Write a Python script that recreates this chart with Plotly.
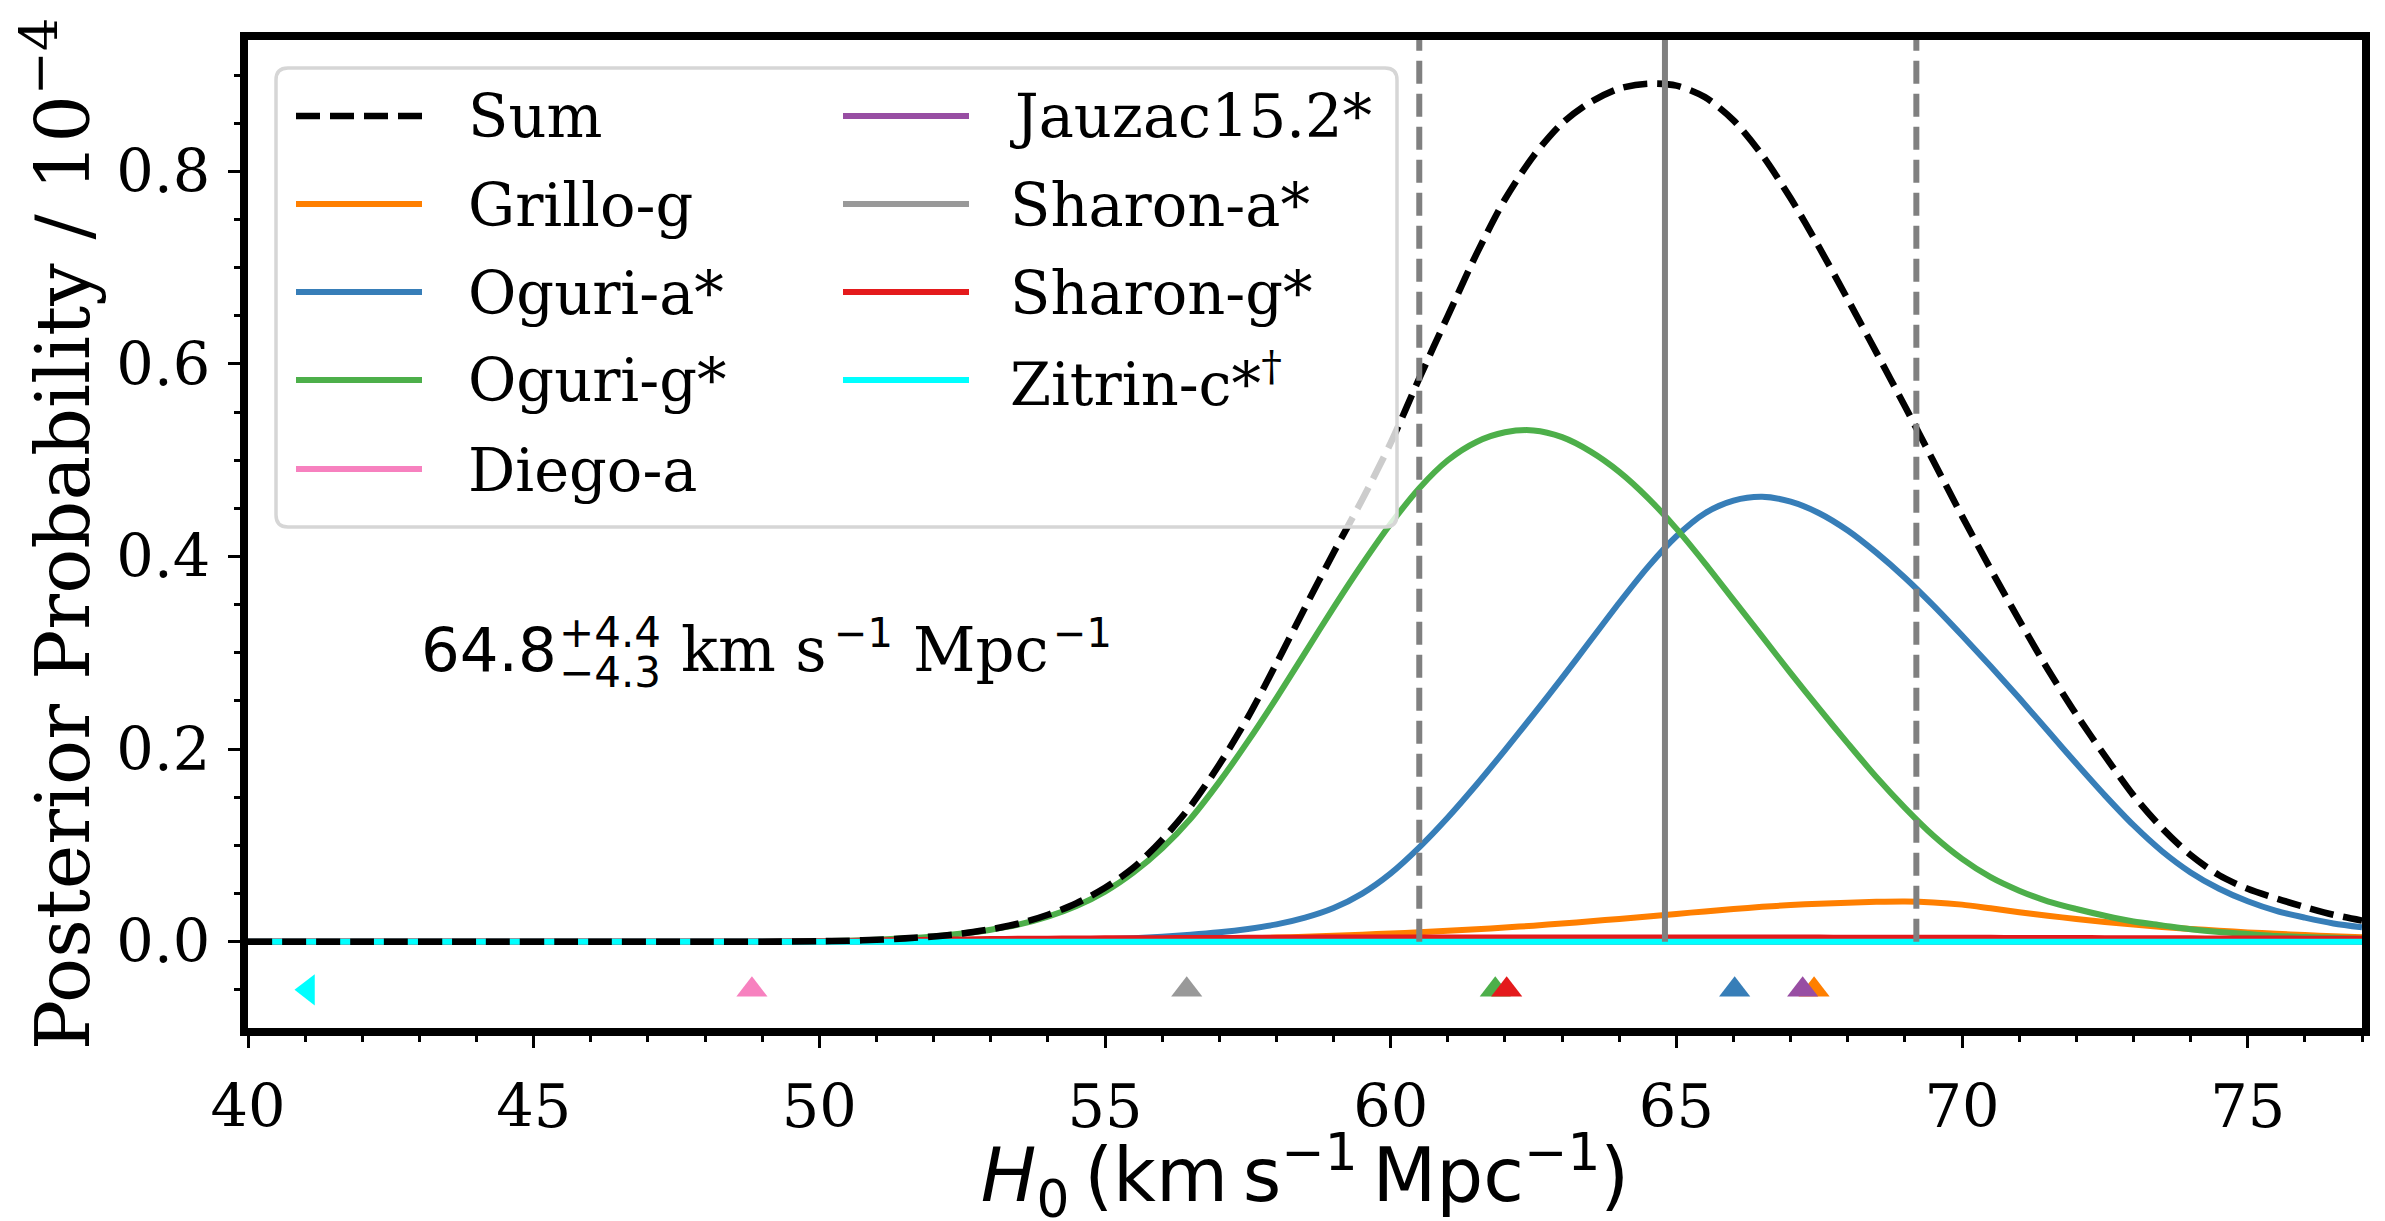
import plotly.graph_objects as go

# ---------------- data ----------------
H0 = [40, 42, 44, 46, 48, 49,
      50, 50.5, 51, 51.5, 52, 52.5, 53, 53.5, 54, 54.5,
      55, 55.5, 56, 56.5, 57, 57.5, 58, 58.5, 59, 59.5,
      60, 60.5, 61, 61.5, 62, 62.5, 63, 63.5, 64, 64.5,
      65, 65.5, 66, 66.5, 67, 67.5, 68, 68.5, 69, 69.5,
      70, 70.5, 71, 71.5, 72, 72.5, 73, 73.5, 74, 74.5,
      75, 75.5, 76, 76.5, 77]

pre = [0, 0, 0, 0, 0, 0]

sum_post = pre + [0.0005, 0.001, 0.002, 0.0035, 0.0055, 0.0085, 0.013, 0.019, 0.028, 0.040,
                  0.056, 0.077, 0.106, 0.141, 0.184, 0.233, 0.289, 0.347, 0.404, 0.459,
                  0.518, 0.585, 0.650, 0.714, 0.771, 0.816, 0.850, 0.872, 0.886, 0.891,
                  0.889, 0.877, 0.853, 0.817, 0.772, 0.721, 0.667, 0.612, 0.556, 0.499,
                  0.442, 0.387, 0.334, 0.283, 0.236, 0.193, 0.152, 0.118, 0.090, 0.069,
                  0.055, 0.045, 0.036, 0.028, 0.022]

grillo_g = pre + [0, 0, 0, 0, 0, 0.0001, 0.0002, 0.0003, 0.0005, 0.0007,
                  0.001, 0.0013, 0.0017, 0.0022, 0.0028, 0.0035, 0.0043, 0.0052, 0.0062, 0.0073,
                  0.0085, 0.0098, 0.0113, 0.0129, 0.0147, 0.0167, 0.0189, 0.0212, 0.0237, 0.0263,
                  0.0289, 0.0315, 0.0340, 0.0362, 0.0381, 0.0395, 0.0405, 0.0414, 0.0418, 0.0408,
                  0.0385, 0.0347, 0.0307, 0.0270, 0.0236, 0.0205, 0.0178, 0.0154, 0.0133, 0.0114,
                  0.0097, 0.0082, 0.0069, 0.0057, 0.0047]

oguri_a = pre + [0, 0, 0, 0, 0.0002, 0.0003, 0.0005, 0.0008, 0.0012, 0.0018,
                 0.0026, 0.0037, 0.0052, 0.0072, 0.0098, 0.0133, 0.018, 0.025, 0.035, 0.050,
                 0.071, 0.098, 0.129, 0.163, 0.199, 0.236, 0.274, 0.313, 0.352, 0.389,
                 0.421, 0.445, 0.458, 0.462, 0.457, 0.445, 0.427, 0.404, 0.378, 0.349,
                 0.318, 0.286, 0.253, 0.219, 0.185, 0.152, 0.121, 0.094, 0.072, 0.055,
                 0.042, 0.032, 0.025, 0.019, 0.015]

oguri_g = pre + [0.0005, 0.001, 0.002, 0.0035, 0.0055, 0.0085, 0.0125, 0.018, 0.026, 0.037,
                 0.052, 0.072, 0.097, 0.128, 0.166, 0.208, 0.253, 0.300, 0.347, 0.392,
                 0.434, 0.471, 0.500, 0.519, 0.529, 0.531, 0.524, 0.509, 0.488, 0.461,
                 0.429, 0.393, 0.355, 0.317, 0.279, 0.242, 0.206, 0.171, 0.139, 0.110,
                 0.086, 0.067, 0.053, 0.042, 0.034, 0.027, 0.021, 0.017, 0.013, 0.010,
                 0.008, 0.006, 0.005, 0.004, 0.003]

sharon_g = pre + [0.0005, 0.0008, 0.0012, 0.0016, 0.002, 0.0024, 0.0027, 0.003, 0.0032, 0.0034,
                  0.0035, 0.0036, 0.0037, 0.0038, 0.0039, 0.004, 0.0041, 0.0042, 0.0043, 0.0043,
                  0.0044, 0.0044, 0.0045, 0.0045, 0.0045, 0.0045, 0.0045, 0.0045, 0.0045, 0.0045,
                  0.0045, 0.0044, 0.0044, 0.0044, 0.0043, 0.0043, 0.0042, 0.0042, 0.0041, 0.0041,
                  0.004, 0.004, 0.0039, 0.0038, 0.0038, 0.0037, 0.0036, 0.0036, 0.0035, 0.0034,
                  0.0034, 0.0033, 0.0032, 0.0031, 0.003]

zeros = [0] * len(H0)
diego_a = list(zeros)
jauzac = list(zeros)
sharon_a = list(zeros)
zitrin_c = list(zeros)

names = ["Grillo-g", "Oguri-a*", "Oguri-g*", "Diego-a", "Jauzac15.2*",
         "Sharon-a*", "Sharon-g*", "Zitrin-c*<sup>†</sup>"]
curves = [grillo_g, oguri_a, oguri_g, diego_a, jauzac, sharon_a, sharon_g, zitrin_c]
colors = ["#ff7f00", "#377eb8", "#4daf4a", "#f781bf", "#984ea3",
          "#999999", "#e41a1c", "#00ffff"]
best_fit = [67.41, 66.02, 61.83, 48.82, 67.21, 56.43, 62.03, 41.05]
marker_symbols = ["triangle-up"] * 7 + ["triangle-left"]
MARKER_Y = -0.05

H0_MED, H0_LO, H0_HI = 64.8, 60.5, 69.2

XR = [40, 77]
YR = [-0.0896, 0.9364]

# ---------------- layout geometry ----------------
# the page body has an 8px default margin; compensate so the plot sits where the reference has it
OFF = 8
W, H = 2385, 1221
L, R, T, B = 240, 31, 32, 201
PW = W - L - R
PH = H - T - B


def pxp(X, Y):
    return ((X - OFF) - L) / PW, (H - B - (Y - OFF)) / PH


def P(X, Y):
    a, b = pxp(X, Y)
    return f"{a:.5f},{b:.5f}"


fig = go.Figure()

LW = 6
for nm, yv, c in zip(names, curves, colors):
    fig.add_trace(go.Scatter(x=H0, y=yv, mode="lines", name=nm,
                             line=dict(color=c, width=LW, shape="spline", smoothing=0.8),
                             showlegend=False, hoverinfo="skip"))
SUM_DASH = "24px,10px"
fig.add_trace(go.Scatter(x=H0, y=sum_post, mode="lines", name="Sum",
                         line=dict(color="black", width=6.6, dash=SUM_DASH,
                                   shape="spline", smoothing=0.8),
                         showlegend=False, hoverinfo="skip"))

for nm, bx, c, sym in zip(names, best_fit, colors, marker_symbols):
    fig.add_trace(go.Scatter(x=[bx], y=[MARKER_Y], mode="markers", name=nm,
                             marker=dict(symbol=sym, size=27, color=c, line=dict(width=0)),
                             showlegend=False, hoverinfo="skip", cliponaxis=False))

shapes = []
y0dom = (0 - YR[0]) / (YR[1] - YR[0])
for v, d in [(H0_LO, "23px,10px"), (H0_MED, "solid"), (H0_HI, "23px,10px")]:
    shapes.append(dict(type="line", xref="x", yref="y domain", x0=v, x1=v,
                       y0=y0dom, y1=1, layer="above",
                       line=dict(color="#808080", width=6, dash=d)))

# legend box (rounded)
x0, x1, y0, y1, r = 276, 1397, 68, 527, 12
path = (f"M{P(x0 + r, y0)} L{P(x1 - r, y0)} Q{P(x1, y0)} {P(x1, y0 + r)} "
        f"L{P(x1, y1 - r)} Q{P(x1, y1)} {P(x1 - r, y1)} L{P(x0 + r, y1)} "
        f"Q{P(x0, y1)} {P(x0, y1 - r)} L{P(x0, y0 + r)} Q{P(x0, y0)} {P(x0 + r, y0)} Z")
shapes.append(dict(type="path", xref="paper", yref="paper", path=path, layer="above",
                   fillcolor="rgba(255,255,255,0.8)",
                   line=dict(color="#d6d6d6", width=3.5)))

annotations = []
leg_entries = [("Sum", "black", SUM_DASH, 6.6)] + [(n, c, "solid", LW) for n, c in zip(names, colors)]
rows = [116, 204, 292, 380, 469]
cols = [(296, 422, 468), (843, 969, 1010)]
for i, (nm, c, d, w) in enumerate(leg_entries):
    col = 0 if i < 5 else 1
    row = i if i < 5 else i - 5
    lx0, lx1, tx = cols[col]
    yy = rows[row]
    a0, b0 = pxp(lx0, yy)
    a1, _ = pxp(lx1, yy)
    shapes.append(dict(type="line", xref="paper", yref="paper", x0=a0, x1=a1, y0=b0, y1=b0,
                       layer="above", line=dict(color=c, width=w, dash=d)))
    ta, tb = pxp(tx - 2, yy + 1)
    annotations.append(dict(text=nm, xref="paper", yref="paper", x=ta, y=tb,
                            xanchor="left", yanchor="middle", showarrow=False,
                            font=dict(family="DejaVu Serif", size=59, color="black")))

# result annotation  64.8 +4.4 -4.3 km s^-1 Mpc^-1
res_parts = [("64.8", 421, 649.6, "DejaVu Sans", 61),
             ("+4.4", 559, 632.2, "DejaVu Sans", 42),
             ("\u22124.3", 559, 672.2, "DejaVu Sans", 42),
             ("km s", 681, 649.6, "DejaVu Serif", 61),
             ("\u22121", 834, 632.9, "DejaVu Sans", 40),
             ("Mpc", 913, 649.6, "DejaVu Serif", 61),
             ("\u22121", 1053, 632.9, "DejaVu Sans", 40)]
for t, X, Y, fam, fs in res_parts:
    a, b = pxp(X - 2, Y)
    annotations.append(dict(text=t, xref="paper", yref="paper", x=a, y=b,
                            xanchor="left", yanchor="middle", showarrow=False,
                            font=dict(family=fam, size=fs, color="black")))

axis_common = dict(showline=True, linewidth=8, linecolor="black", mirror=True,
                   ticks="outside", ticklen=12, tickwidth=3, tickcolor="black",
                   showgrid=False, zeroline=False,
                   tickfont=dict(family="DejaVu Serif", size=59, color="black"))

fig.update_layout(
    width=W, height=H,
    margin=dict(l=L, r=R, t=T, b=B, autoexpand=False),
    plot_bgcolor="white", paper_bgcolor="white",
    showlegend=False,
    shapes=shapes, annotations=annotations,
    xaxis=dict(range=XR, tickmode="linear", tick0=40, dtick=5, ticklabelstandoff=8,
               minor=dict(dtick=1, tick0=40, ticks="outside", ticklen=6, tickwidth=2.5,
                          tickcolor="black", showgrid=False),
               title=dict(text="<i>H</i><sub>0</sub>\u2009(km\u2009s<sup>\u22121</sup>\u2009Mpc<sup>\u22121</sup>)",
                          font=dict(family="DejaVu Sans", size=74, color="black"), standoff=12),
               **axis_common),
    yaxis=dict(range=YR, tickmode="linear", tick0=0, dtick=0.2, tickformat=".1f",
               ticklabelstandoff=6,
               minor=dict(dtick=0.05, tick0=0, ticks="outside", ticklen=6, tickwidth=2.5,
                          tickcolor="black", showgrid=False),
               title=dict(text="Posterior Probability / 10<sup>\u22124</sup>",
                          font=dict(family="DejaVu Serif", size=75, color="black"), standoff=20),
               **axis_common),
)

fig.write_html("out.html", config={"displayModeBar": False})
